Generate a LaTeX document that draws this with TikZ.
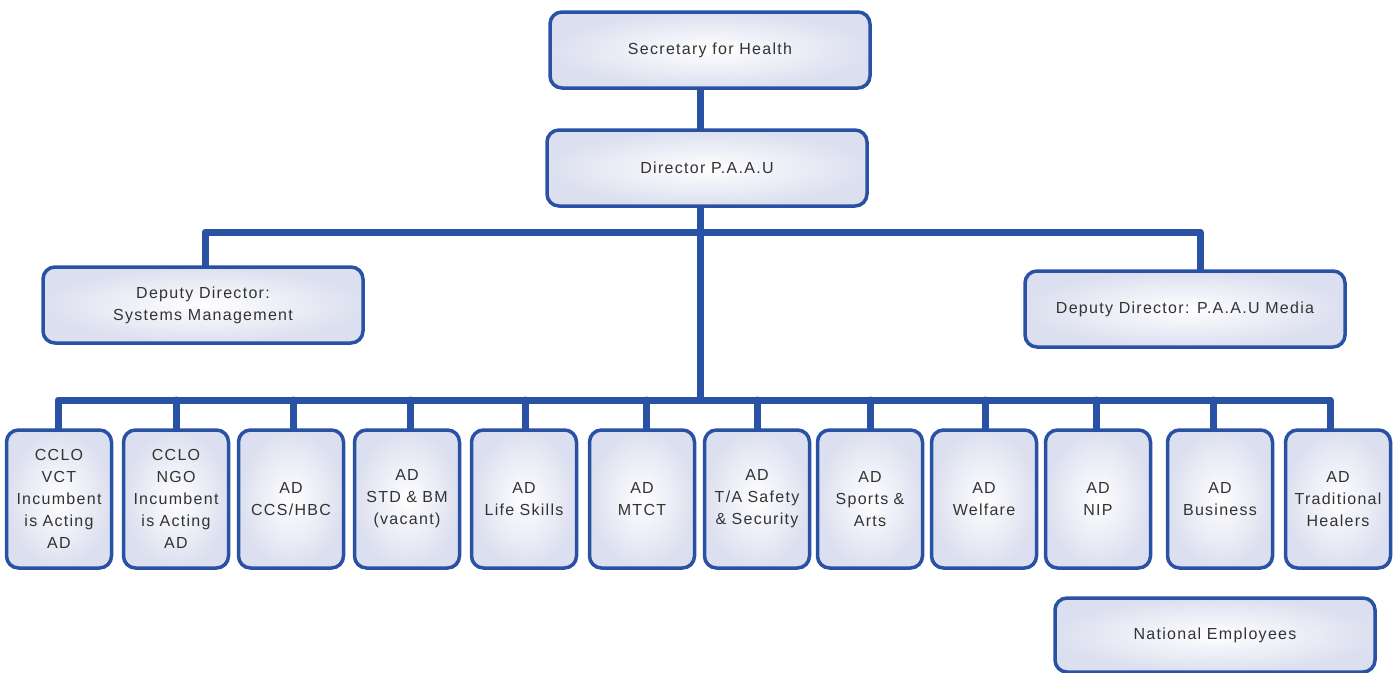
\documentclass[tikz,border=0pt]{standalone}
\usepackage{fontspec}
\setmainfont{Liberation Sans}[LetterSpace=8]
\usetikzlibrary{backgrounds}
\definecolor{orgblue}{HTML}{2A52A4}
\definecolor{boxedge}{HTML}{DCDFEF}
\definecolor{txt}{HTML}{333333}
\tikzset{
  unit/.style={draw=orgblue, line width=3.5pt, rounded corners=12pt,
    inner color=white, outer color=boxedge, text=txt, align=center,
    font=\fontsize{16}{22}\selectfont},
  widebox/.style={unit, minimum width=320pt, minimum height=76pt},
  tallbox/.style={unit, minimum width=105pt, minimum height=138pt,
    text width=94pt, inner sep=2pt},
  link/.style={draw=orgblue, line width=7pt, line cap=round, line join=round}
}
\begin{document}
\begin{tikzpicture}[x=1pt, y=-1pt]
\useasboundingbox (0,0) rectangle (1399,672);

% top of the chart
\node[widebox] (sec) at (710,50) {Secretary for Health};
\node[widebox] (dir) at (707,168) {Director P.A.A.U};
\node[widebox] (ddsys) at (203,305) {Deputy Director:\\Systems Management};
\node[widebox] (ddmed) at (1185,309) {Deputy Director: P.A.A.U Media};

% assistant directors
\node[tallbox] (b1)  at (59,499)   {CCLO\\VCT\\Incumbent\\is Acting\\AD};
\node[tallbox] (b2)  at (176,499)  {CCLO\\NGO\\Incumbent\\is Acting\\AD};
\node[tallbox] (b3)  at (291,499)  {AD\\CCS/HBC};
\node[tallbox] (b4)  at (407,499)  {AD\\STD \& BM\\(vacant)};
\node[tallbox] (b5)  at (524,499)  {AD\\Life Skills};
\node[tallbox] (b6)  at (642,499)  {AD\\MTCT};
\node[tallbox] (b7)  at (757,499)  {AD\\T/A Safety\\\& Security};
\node[tallbox] (b8)  at (870,499)  {AD\\Sports \&\\Arts};
\node[tallbox] (b9)  at (984,499)  {AD\\Welfare};
\node[tallbox] (b10) at (1098,499) {AD\\NIP};
\node[tallbox] (b11) at (1220,499) {AD\\Business};
\node[tallbox] (b12) at (1338,499) {AD\\Traditional\\Healers};

\node[widebox, minimum height=74pt] (nat) at (1215,635) {National Employees};

% bus lines
\coordinate (upbus) at (700,232);
\coordinate (lowbus) at (700,400);

\begin{scope}[on background layer]
  \fill[white] (0,0) rectangle (1399,672);
  \path[link] (sec.south -| upbus) -- (dir.north -| upbus);
  \path[link] (dir.south -| upbus) -- (lowbus);
  \path[link] (ddsys.north -| 205,0) |- (upbus) -| (ddmed.north -| 1200,0);
  \path[link] (b1.north -| 58,0) |- (lowbus) -| (b12.north -| 1330,0);
  \foreach \b/\x in {b2/176,b3/293,b4/410,b5/525,b6/646,b7/757,b8/870,b9/985,b10/1096,b11/1213}
    \path[link] (\b.north -| \x,0) -- (\x,400);
\end{scope}
\end{tikzpicture}
\end{document}
